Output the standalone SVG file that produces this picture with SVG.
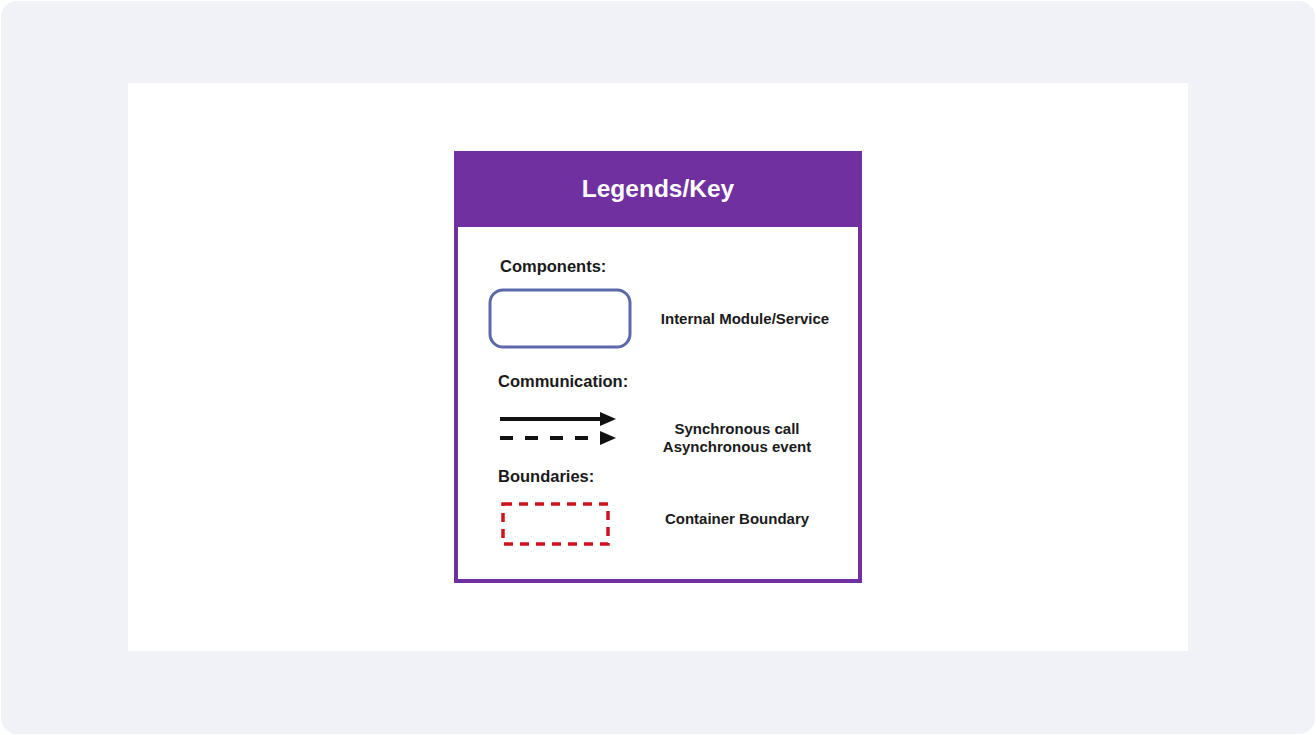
<svg xmlns="http://www.w3.org/2000/svg" width="1316" height="735" viewBox="0 0 1316 735">
<defs>
<style>
.t{font-family:"Liberation Sans",Arial,sans-serif;font-weight:bold;fill:#1a1a1a}
.h{font-size:16.5px}
.l{font-size:15px;text-anchor:middle}
</style>
<marker id="ah" viewBox="0 0 10 10" refX="0" refY="5" markerWidth="4" markerHeight="3.5" orient="auto" markerUnits="strokeWidth" preserveAspectRatio="none">
<path d="M0,0 L10,5 L0,10 z" fill="#111"/>
</marker>
</defs>
<rect x="1" y="1" width="1314" height="733" rx="16" fill="#f1f2f7"/>
<rect x="128" y="83" width="1060" height="568" fill="#ffffff"/>
<g id="legend">
<rect x="456" y="153" width="404" height="428" fill="#ffffff" stroke="#7030a0" stroke-width="4"/>
<rect x="454" y="151" width="408" height="76" fill="#7030a0"/>
<text x="658" y="197" text-anchor="middle" style="font-family:'Liberation Sans',Arial,sans-serif;font-weight:bold;font-size:24.5px;fill:#ffffff">Legends/Key</text>
</g>
<g id="components">
<text class="t h" x="500" y="272">Components:</text>
<rect x="490" y="290" width="140" height="57" rx="13" fill="#ffffff" stroke="#5b69ab" stroke-width="3"/>
<text class="t l" x="745" y="324">Internal Module/Service</text>
</g>
<g id="connectors">
<line x1="500" y1="419" x2="600" y2="419" stroke="#111" stroke-width="4" marker-end="url(#ah)"/>
<line x1="500" y1="438" x2="600" y2="438" stroke="#111" stroke-width="4" stroke-dasharray="13,12" marker-end="url(#ah)"/>
</g>
<g id="communication">
<text class="t h" x="498" y="387">Communication:</text>
<text class="t l" x="737" y="434">Synchronous call</text>
<text class="t l" x="737" y="452">Asynchronous event</text>
</g>
<g id="boundaries">
<text class="t h" x="498" y="482">Boundaries:</text>
<rect x="503" y="504" width="105" height="40" fill="none" stroke="#d0121b" stroke-width="3.5" stroke-dasharray="9,7"/>
<text class="t l" x="737" y="524">Container Boundary</text>
</g>
</svg>
